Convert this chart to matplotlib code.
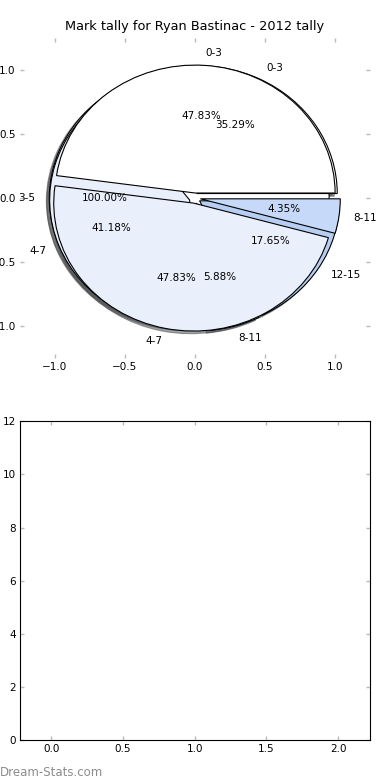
import matplotlib
matplotlib.use('Agg')
import matplotlib.pyplot as plt

# mark tally, 2012 - three pies drawn on one axes
labels_a = ['0-3', '4-7', '8-11']
counts_a = [11, 11, 1]
labels_b = ['0-3', '4-7', '8-11', '12-15']
counts_b = [6, 7, 1, 3]
labels_c = ['3-5']
counts_c = [1]

# empty bottom panel
rounds = [0, 1, 2]
round_counts = [0, 0, 0]

colours = ['#ffffff', '#e9effb', '#c6d9f8', '#b7cef3']

fig = plt.figure(figsize=(3.9, 7.8), dpi=100)
ax = fig.add_axes([0.051, 0.541, 0.897, 0.41])
ax2 = fig.add_axes([0.051, 0.051, 0.897, 0.409])

wp = {'edgecolor': 'black', 'linewidth': 0.8}
for labs, vals in [(labels_c, counts_c), (labels_b, counts_b), (labels_a, counts_a)]:
    ax.pie(vals, labels=labs, colors=colours[:len(vals)], explode=[0.04] * len(vals),
           autopct='%.2f%%', shadow={'ox': -0.015, 'oy': -0.015}, wedgeprops=wp,
           textprops={'fontsize': 7.5})

ax.set_aspect('auto')
ax.set_frame_on(False)
ax.set_xlim(-1.25, 1.25)
ax.set_ylim(-1.25, 1.25)
ax.set_xticks([-1.0, -0.5, 0.0, 0.5, 1.0])
ax.set_yticks([-1.0, -0.5, 0.0, 0.5, 1.0])
ax.set_title('Mark tally for Ryan Bastinac - 2012 tally', fontsize=9.3)

ax2.bar(rounds, round_counts, linewidth=0)
ax2.set_xlim(-0.22, 2.22)
ax2.set_ylim(0, 12)
ax2.set_xticks([0.0, 0.5, 1.0, 1.5, 2.0])
ax2.set_yticks(range(0, 13, 2))

for a in (ax, ax2):
    a.tick_params(direction='in', length=3, width=1, color='#bbbbbb',
                  labelsize=7.5, top=True, right=True, pad=3)

fig.text(0.0, 0.005, 'Dream-Stats.com', fontsize=8.5, color='#8c8c8c')

fig.savefig('out.png')
